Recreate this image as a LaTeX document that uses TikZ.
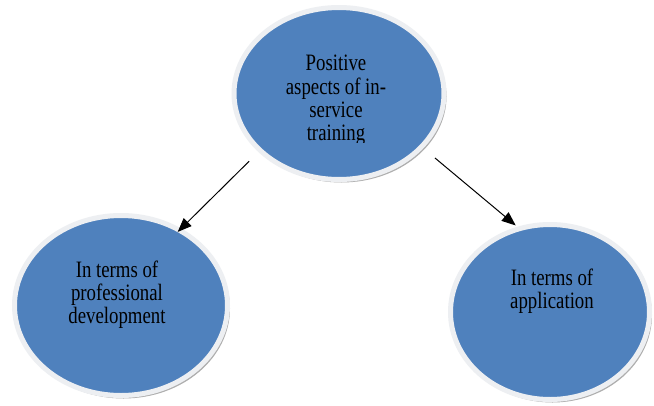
\documentclass[tikz,border=0pt]{standalone}
\usepackage{fontspec}
\usepackage{graphicx}
\setmainfont{Liberation Serif}
\usetikzlibrary{arrows.meta,shadows,shapes.geometric}
\definecolor{bubble}{HTML}{4F81BD}
\definecolor{rim}{HTML}{EDEFF2}
\newcommand{\tallines}[1]{\scalebox{1}[1.25]{\fontsize{18.8}{18.4}\selectfont\begin{tabular}{@{}c@{}}#1\end{tabular}}}
\tikzset{
  bubblenode/.style={ellipse, fill=bubble, draw=rim, line width=5pt, inner sep=0pt,
    drop shadow={shadow xshift=2.5pt, shadow yshift=-3pt, fill=black!45, opacity=0.7}},
  labeltext/.style={inner sep=0pt, text=black},
  linkarrow/.style={draw=black, line width=1pt, -{Triangle[length=14pt,width=11pt]}}
}
\begin{document}
\begin{tikzpicture}[x=1pt,y=-1pt]
\useasboundingbox[fill=white] (0,0) rectangle (654,405);
\node[bubblenode, minimum width=210pt, minimum height=172pt] (top) at (339,93.5) {};
\node[bubblenode, minimum width=213pt, minimum height=180pt] (left) at (121,305.5) {};
\node[bubblenode, minimum width=199pt, minimum height=175pt] (right) at (550,312) {};
\begin{scope}
\clip (200,0) rectangle (480,142);
\node[labeltext] (toptext) at (336,101) {\tallines{Positive\\aspects of in-\\service\\training}};
\end{scope}
\node[labeltext] (lefttext) at (117,295.5) {\tallines{In terms of\\professional\\development}};
\node[labeltext] (righttext) at (552,292) {\tallines{In terms of\\application}};
\draw[linkarrow, shorten <=13pt, shorten >=-5pt] (top.216.2) -- (left.52.7);
\draw[linkarrow, shorten <=15pt, shorten >=2pt] (top.-33.5) -- (right.111.3);
\end{tikzpicture}
\end{document}
